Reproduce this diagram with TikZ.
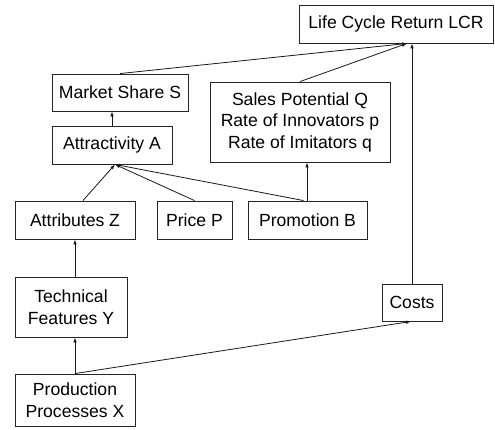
\documentclass[tikz,border=0pt]{standalone}
\usepackage{fontspec}
\setmainfont{Liberation Sans}
\usetikzlibrary{arrows.meta}
\begin{document}
\begin{tikzpicture}[x=1pt,y=-1pt,
  box/.style={draw=black!85, line width=0.9pt, inner sep=0pt, align=center,
    font=\fontsize{17.6}{21.5}\selectfont},
  link/.style={draw=black!90, line width=0.8pt},
  arr/.style={link, -{Latex[length=5pt,width=3.6pt]}}]
\useasboundingbox (0,0) rectangle (495,429);

% decision variables and outcome boxes
\node[box, minimum width=194pt, minimum height=38pt] (lcr) at (396,24) {Life Cycle Return LCR};
\node[box, minimum width=136pt, minimum height=37pt] (ms) at (120,92.5) {Market Share S};
\node[box, minimum width=180pt, minimum height=80pt] (sp) at (300,122)
  {Sales Potential Q\\Rate of Innovators p\\Rate of Imitators q};
\node[box, minimum width=120pt, minimum height=38pt] (aa) at (112,145) {Attractivity A};
\node[box, minimum width=120pt, minimum height=38pt] (az) at (75,220) {Attributes Z};
\node[box, minimum width=75pt, minimum height=38pt] (pp) at (194.5,220) {Price P};
\node[box, minimum width=119pt, minimum height=38pt] (pb) at (307.5,220) {Promotion B};
\node[box, minimum width=112pt, minimum height=60pt] (tf) at (71,307) {Technical\\Features Y};
\node[box, minimum width=120pt, minimum height=52pt] (px) at (75,400) {Production\\Processes X};
\node[box, minimum width=60pt, minimum height=37pt] (co) at (412,302.5) {Costs};

% influences
\draw[arr] (ms.north) -- ([xshift=11pt]lcr.south);
\draw[arr] (sp.north) -- ([xshift=11pt]lcr.south);
\draw[arr] (co.north) -- (co.north |- lcr.south);
\draw[arr] (aa.north) -- (aa.north |- ms.south);
\draw[arr] ([xshift=8pt]az.north) -- ([xshift=3pt]aa.south);
\draw[arr] (pp.north) -- ([xshift=3pt]aa.south);
\draw[arr] ([xshift=-4pt]pb.north) -- ([xshift=3pt]aa.south);
\draw[arr] (pb.north -| 307,0) -- (307,0 |- sp.south);
\draw[arr] (tf.north -| az.south) -- (az.south);
\draw[arr] (px.north) -- (px.north |- tf.south);
\draw[arr] (px.north) -- ([xshift=-1pt]co.south);
\end{tikzpicture}
\end{document}
